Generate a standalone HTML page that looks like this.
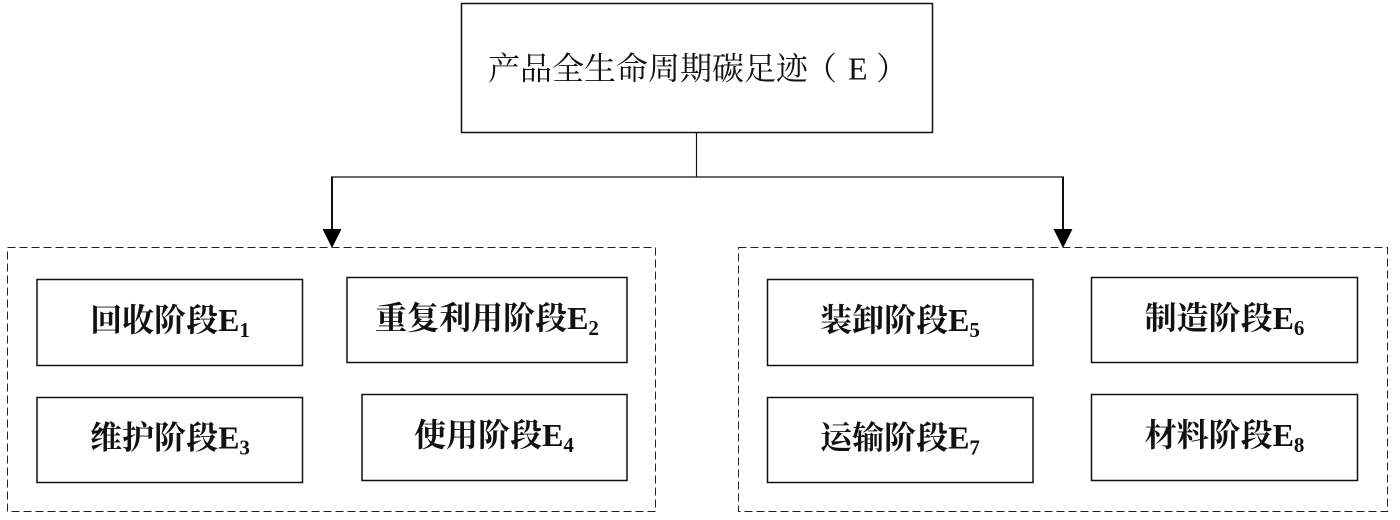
<!DOCTYPE html>
<html>
<head>
<meta charset="utf-8">
<style>
html,body{margin:0;padding:0;background:#fff;}
body{width:1400px;height:520px;overflow:hidden;}
svg{display:block;}
.lbl{font-family:"Liberation Serif","Noto Serif CJK SC",serif;font-size:32px;font-weight:bold;fill:#111;}
.ttl{font-family:"Liberation Serif","Noto Serif CJK SC",serif;font-size:32px;fill:#111;}
</style>
</head>
<body>
<svg width="1400" height="520" viewBox="0 0 1400 520" xmlns="http://www.w3.org/2000/svg">
  <!-- top box -->
  <rect x="461.5" y="3.5" width="471" height="129" fill="#fff" stroke="#111" stroke-width="1.5"/>
  <text class="ttl" x="488" y="79.5">产品全生命周期碳足迹</text>
  <text class="ttl" x="805" y="79.5">（</text>
  <text class="ttl" x="848" y="79.5" font-size="33">E</text>
  <text class="ttl" x="876" y="79.5">）</text>

  <!-- connectors -->
  <line x1="696.5" y1="133" x2="696.5" y2="177" stroke="#111" stroke-width="1.2"/>
  <line x1="331" y1="177" x2="1064" y2="177" stroke="#111" stroke-width="1.3"/>
  <line x1="332" y1="177" x2="332" y2="232" stroke="#111" stroke-width="2"/>
  <line x1="1063" y1="177" x2="1063" y2="232" stroke="#111" stroke-width="2"/>
  <polygon points="322.5,229 341.5,229 332,248" fill="#000"/>
  <polygon points="1053.5,229 1072.5,229 1063,248" fill="#000"/>

  <!-- dashed groups -->
  <rect x="7.5" y="247.5" width="648" height="264" fill="none" stroke="#222" stroke-width="1" stroke-dasharray="8 4"/>
  <rect x="738.5" y="247.5" width="649" height="264" fill="none" stroke="#222" stroke-width="1" stroke-dasharray="8 4"/>

  <!-- left boxes -->
  <rect x="37" y="279.5" width="265.5" height="86" fill="#fff" stroke="#111" stroke-width="1.5"/>
  <text class="lbl" x="170" y="331" text-anchor="middle">回收阶段E<tspan font-size="21" dy="6">1</tspan></text>

  <rect x="347" y="277.5" width="280" height="85" fill="#fff" stroke="#111" stroke-width="1.5"/>
  <text class="lbl" x="487" y="329" text-anchor="middle">重复利用阶段E<tspan font-size="21" dy="6">2</tspan></text>

  <rect x="37" y="397.5" width="265.5" height="85" fill="#fff" stroke="#111" stroke-width="1.5"/>
  <text class="lbl" x="170" y="448.5" text-anchor="middle">维护阶段E<tspan font-size="21" dy="6">3</tspan></text>

  <rect x="362" y="394.5" width="265" height="86" fill="#fff" stroke="#111" stroke-width="1.5"/>
  <text class="lbl" x="494" y="446" text-anchor="middle">使用阶段E<tspan font-size="21" dy="6">4</tspan></text>

  <!-- right boxes -->
  <rect x="767.5" y="279.5" width="265.5" height="86" fill="#fff" stroke="#111" stroke-width="1.5"/>
  <text class="lbl" x="900" y="331" text-anchor="middle">装卸阶段E<tspan font-size="21" dy="6">5</tspan></text>

  <rect x="1091.5" y="277.5" width="266" height="85" fill="#fff" stroke="#111" stroke-width="1.5"/>
  <text class="lbl" x="1224.5" y="329" text-anchor="middle">制造阶段E<tspan font-size="21" dy="6">6</tspan></text>

  <rect x="767.5" y="397.5" width="265.5" height="85" fill="#fff" stroke="#111" stroke-width="1.5"/>
  <text class="lbl" x="900" y="448.5" text-anchor="middle">运输阶段E<tspan font-size="21" dy="6">7</tspan></text>

  <rect x="1091.5" y="394.5" width="266" height="86" fill="#fff" stroke="#111" stroke-width="1.5"/>
  <text class="lbl" x="1224.5" y="446" text-anchor="middle">材料阶段E<tspan font-size="21" dy="6">8</tspan></text>
</svg>
</body>
</html>
